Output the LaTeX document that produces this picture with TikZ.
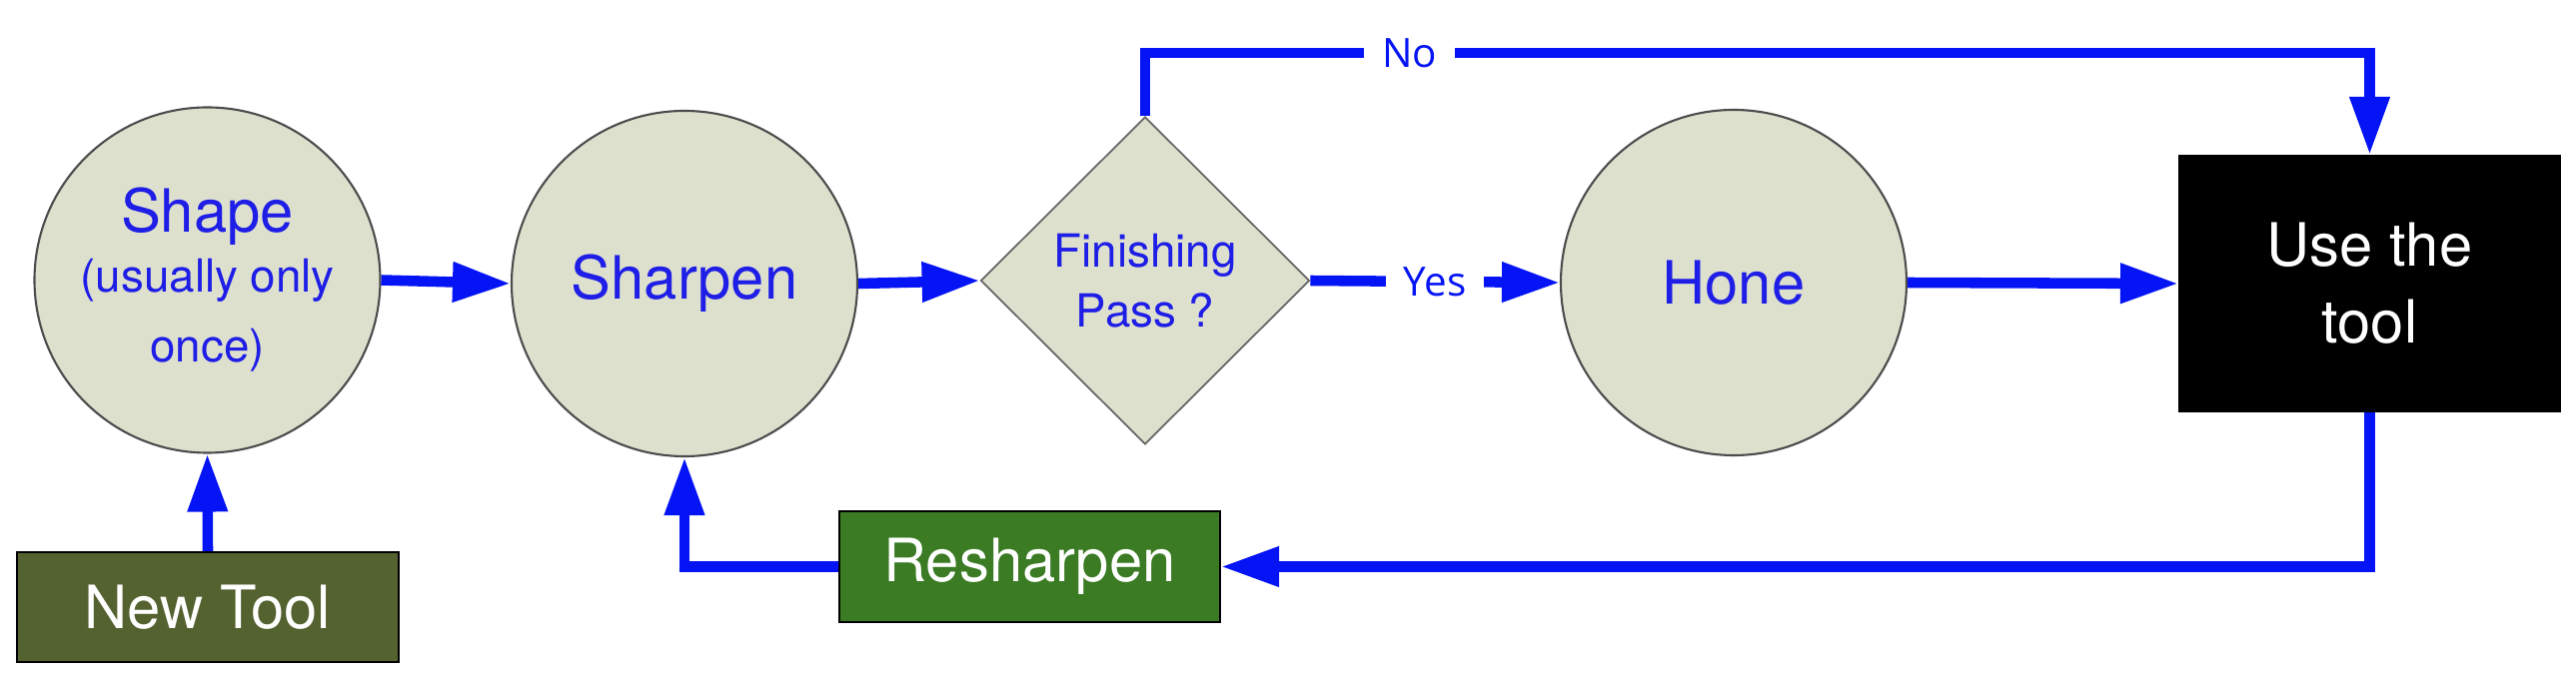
\documentclass[tikz,border=0pt]{standalone}
\usepackage{fontspec}
\setmainfont{TeX Gyre Heros}
\newfontfamily\tagfont{Open Sans}
\usetikzlibrary{shapes.geometric,arrows.meta}
\definecolor{flowblue}{RGB}{5,20,245}
\definecolor{textblue}{RGB}{30,30,230}
\definecolor{stonefill}{RGB}{222,224,206}
\definecolor{olivebox}{RGB}{84,98,48}
\definecolor{leafbox}{RGB}{58,123,35}
\newcommand{\subline}{\fontsize{13}{20.8}\selectfont}
\begin{document}
\begin{tikzpicture}[
	stage/.style={circle, draw=black!70, line width=0.6pt, fill=stonefill, minimum size=3.46cm, inner sep=0pt, text=textblue, align=center, font=\fontsize{17}{20}\selectfont},
	query/.style={diamond, draw=black!60, line width=0.5pt, fill=stonefill, minimum width=3.29cm, minimum height=3.28cm, inner sep=0pt, text=textblue, align=center, font=\fontsize{13}{17}\selectfont},
	panel/.style={rectangle, draw=black, line width=0.6pt, text=white, align=center, inner sep=0pt, font=\fontsize{17}{22}\selectfont},
	flow/.style={draw=flowblue, line width=3pt, -{Triangle[length=16.5pt,width=10.8pt]}},
	tag/.style={fill=white, text=flowblue, inner xsep=0.18cm, inner ysep=1pt, font=\tagfont\fontsize{11.5}{14}\selectfont}]
	\useasboundingbox (0,0) rectangle (25.78,-6.76);
	% stages
	\node[stage] (shape) at (2.075,-2.805) {Shape\\[-3pt]\subline(usually only\\\subline once)};
	\node[stage] (sharpen) at (6.85,-2.84) {Sharpen};
	\node[query] (pass) at (11.46,-2.81) {Finishing\\Pass ?};
	\node[stage] (hone) at (17.35,-2.83) {Hone};
	\node[panel, fill=black, minimum width=3.81cm, minimum height=2.56cm] (use) at (23.715,-2.84) {Use the\\tool};
	\node[panel, fill=olivebox, minimum width=3.82cm, minimum height=1.10cm] (newtool) at (2.08,-6.08) {New Tool};
	\node[panel, fill=leafbox, minimum width=3.81cm, minimum height=1.11cm] (resharp) at (10.305,-5.675) {Resharpen};
	\coordinate (notop) at (11.46,-0.53);
	% connectors
	\draw[flow] (newtool.north) -- (shape.south);
	\draw[flow] (shape.east) -- (sharpen.west);
	\draw[flow] (sharpen.east) -- (pass.west);
	\draw[flow] (pass.east) -- node[tag] {Yes} (hone.west);
	\draw[flow] (pass.north) -- (notop) -| node[tag, pos=0.108] {No} (use.north);
	\draw[flow] (hone.east) -- (use.west);
	\draw[flow] (use.south) |- (resharp.east);
	\draw[flow] (resharp.west) -| (sharpen.south);
\end{tikzpicture}
\end{document}
